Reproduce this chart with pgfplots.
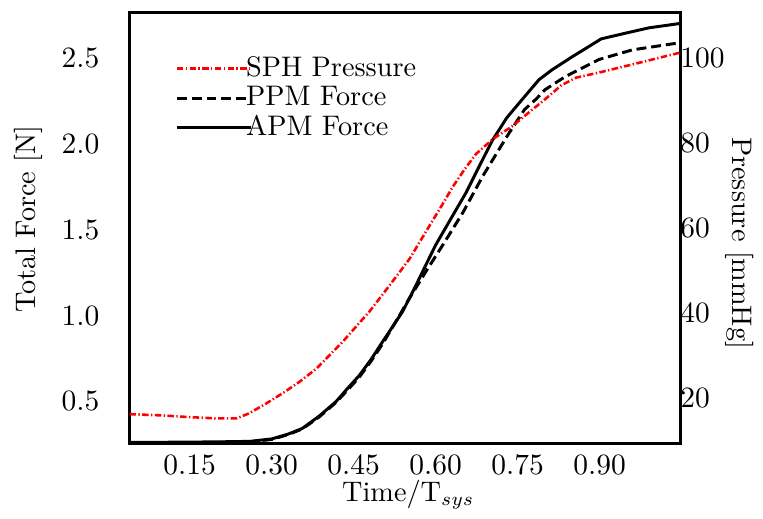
\documentclass[border=0pt]{standalone}
\usepackage{pgfplots}
\pgfplotsset{compat=1.18}

\begin{document}
\fontsize{10.5pt}{12.6pt}\selectfont
\begin{tikzpicture}
\pgfplotsset{
  every axis/.append style={
    width=204.6pt, height=159.8pt, scale only axis,
    xmin=0.04, xmax=1.048,
    major tick length=0pt,
    axis line style={line width=1.1pt},
  },
}
% force axis (left)
\begin{axis}[
  ymin=0.257, ymax=2.761,
  ytick={0.5,1.0,1.5,2.0,2.5},
  xtick={0.15,0.30,0.45,0.60,0.75,0.90},
  yticklabel style={xshift=-7.5pt, /pgf/number format/.cd, fixed, fixed zerofill, precision=1},
  xticklabel style={yshift=-0.7pt, /pgf/number format/.cd, fixed, fixed zerofill, precision=2},
  xlabel={Time/T$_{sys}$},
  ylabel={Total Force [N]},
  xlabel style={at={(axis description cs:0.506,-0.120)}, anchor=center},
  ylabel style={at={(axis description cs:-0.184,0.521)}, anchor=center},
]
% PPM Force
\addplot[black, line width=1.1pt, dash pattern=on 3.7pt off 1.8pt] table {
0.040 0.257
0.120 0.258
0.200 0.261
0.260 0.265
0.300 0.279
0.330 0.307
0.356 0.340
0.387 0.410
0.418 0.495
0.440 0.570
0.460 0.640
0.482 0.735
0.503 0.835
0.530 0.980
0.552 1.100
0.585 1.270
0.615 1.420
0.650 1.600
0.686 1.810
0.716 1.967
0.735 2.065
0.763 2.200
0.784 2.260
0.800 2.314
0.837 2.390
0.899 2.490
0.960 2.546
1.046 2.587
};
% APM Force
\addplot[black, line width=1.1pt] table {
0.040 0.262
0.120 0.263
0.200 0.265
0.260 0.268
0.300 0.282
0.330 0.310
0.356 0.343
0.387 0.415
0.418 0.500
0.440 0.580
0.460 0.650
0.482 0.745
0.503 0.848
0.539 1.020
0.560 1.150
0.583 1.300
0.600 1.410
0.630 1.575
0.656 1.717
0.680 1.870
0.704 2.020
0.730 2.150
0.758 2.256
0.789 2.372
0.813 2.430
0.850 2.506
0.903 2.610
0.950 2.645
0.990 2.674
1.048 2.700
};
\end{axis}

% pressure axis (right)
\begin{axis}[
  axis x line=none,
  axis y line*=right,
  ymin=9.47, ymax=110.5,
  ytick={20,40,60,80,100},
  yticklabel style={xshift=-3.7pt},
  ylabel={Pressure [mmHg]},
  ylabel style={at={(axis description cs:1.107,0.465)}, anchor=center, rotate=180},
  legend image code/.code={
    \draw[#1, overlay] (0pt,0pt) -- (27.4pt,0pt);
    \path[draw=none, fill=none] (0pt,-5.5pt) rectangle (25.7pt,5.5pt);
  },
  legend style={
    at={(0.085,0.906)}, anchor=north west,
    draw=none, fill=none, inner sep=0pt, row sep=0pt,
    nodes={inner sep=0pt},
    cells={anchor=west},
  },
]
\addplot[red, line width=0.95pt, dash pattern=on 2.4pt off 0.9pt on 0.5pt off 0.9pt] table {
0.040 16.3
0.100 16.0
0.150 15.6
0.200 15.3
0.236 15.3
0.259 16.5
0.290 18.8
0.320 21.2
0.350 23.8
0.382 27.0
0.430 33.3
0.479 40.4
0.515 46.4
0.552 52.7
0.583 59.3
0.610 65.0
0.631 69.6
0.652 73.6
0.674 77.4
0.704 80.8
0.740 83.9
0.777 87.8
0.800 90.2
0.830 93.5
0.857 95.3
0.899 96.5
0.960 98.4
1.048 101.2
};
\addlegendentry{SPH Pressure}
\addlegendimage{black, line width=1.1pt, dash pattern=on 3.7pt off 1.8pt}
\addlegendentry{PPM Force}
\addlegendimage{black, line width=1.1pt}
\addlegendentry{APM Force}
\end{axis}
% page size as in the reference
\path (-48.1pt,-28.1pt) rectangle (234.2pt,164.6pt);
\end{tikzpicture}
\end{document}
